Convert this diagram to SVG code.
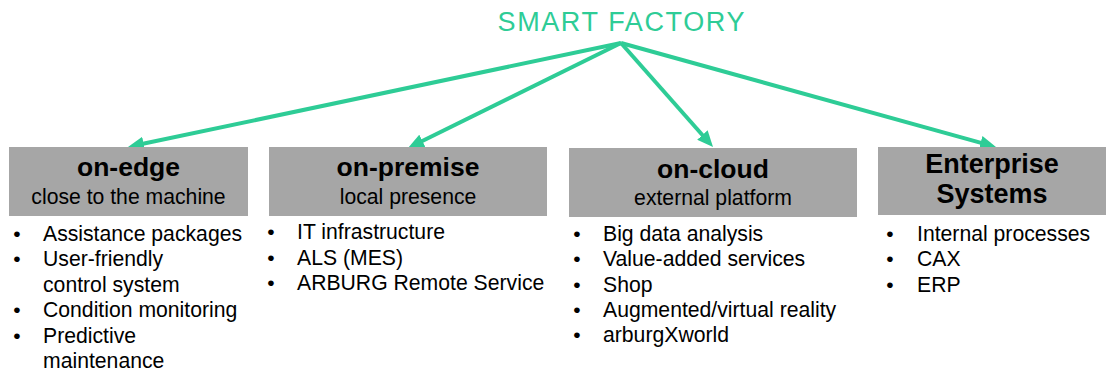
<svg xmlns="http://www.w3.org/2000/svg" width="1107" height="374" viewBox="0 0 1107 374">
<defs>
<style>
.box{fill:#a6a6a6}
.h{font-family:"Liberation Sans",Arial,sans-serif;font-weight:bold;font-size:26.5px;fill:#000;text-anchor:middle}
.s{font-family:"Liberation Sans",Arial,sans-serif;font-size:21.2px;fill:#000;text-anchor:middle}
.t{font-family:"Liberation Sans",Arial,sans-serif;font-size:21.2px;fill:#000}
.b{font-family:"Liberation Sans",Arial,sans-serif;font-size:21px;fill:#000;text-anchor:middle}
.c{stroke:#2ecc96;stroke-width:4;fill:none;marker-end:url(#ah)}
</style>
<marker id="ah" markerUnits="userSpaceOnUse" markerWidth="16" markerHeight="14" refX="8" refY="7" orient="auto" viewBox="0 0 16 14">
<path d="M0,0 L16,7 L0,14 z" fill="#2ecc96"/>
</marker>
</defs>
<g id="title">
<text x="621" y="31" font-family="'Liberation Sans',Arial,sans-serif" font-size="27" fill="#2ecc96" text-anchor="middle" textLength="247" lengthAdjust="spacing">SMART FACTORY</text>
</g>
<g id="connectors">
<line class="c" x1="621" y1="43" x2="135.8" y2="145.3"/>
<line class="c" x1="621" y1="43" x2="415.2" y2="144.5"/>
<line class="c" x1="621" y1="43" x2="707.7" y2="141"/>
<line class="c" x1="621" y1="43" x2="988.3" y2="144.9"/>
</g>
<g id="on-edge">
<rect class="box" x="9" y="147" width="239" height="69"/>
<text class="h" x="128.5" y="176">on-edge</text>
<text class="s" x="128.5" y="204">close to the machine</text>
<text class="b" x="17" y="241">•</text><text class="t" x="43" y="241">Assistance packages</text>
<text class="b" x="17" y="266">•</text><text class="t" x="43" y="266">User-friendly</text>
<text class="t" x="43" y="292">control system</text>
<text class="b" x="17" y="317">•</text><text class="t" x="43" y="317">Condition monitoring</text>
<text class="b" x="17" y="343">•</text><text class="t" x="43" y="343">Predictive</text>
<text class="t" x="43" y="368">maintenance</text>
</g>
<g id="on-premise">
<rect class="box" x="269" y="147" width="278" height="69"/>
<text class="h" x="408" y="176">on-premise</text>
<text class="s" x="408" y="204">local presence</text>
<text class="b" x="271" y="239">•</text><text class="t" x="297" y="239">IT infrastructure</text>
<text class="b" x="271" y="265">•</text><text class="t" x="297" y="265">ALS (MES)</text>
<text class="b" x="271" y="290">•</text><text class="t" x="297" y="290">ARBURG Remote Service</text>
</g>
<g id="on-cloud">
<rect class="box" x="569" y="148" width="288" height="69"/>
<text class="h" x="713" y="178">on-cloud</text>
<text class="s" x="713" y="205">external platform</text>
<text class="b" x="577" y="241">•</text><text class="t" x="603" y="241">Big data analysis</text>
<text class="b" x="577" y="266">•</text><text class="t" x="603" y="266">Value-added services</text>
<text class="b" x="577" y="292">•</text><text class="t" x="603" y="292">Shop</text>
<text class="b" x="577" y="317">•</text><text class="t" x="603" y="317">Augmented/virtual reality</text>
<text class="b" x="577" y="342">•</text><text class="t" x="603" y="342">arburgXworld</text>
</g>
<g id="enterprise">
<rect class="box" x="878" y="147" width="228" height="68"/>
<text class="h" x="992" y="173" style="font-size:27px">Enterprise</text>
<text class="h" x="992" y="203" style="font-size:27px">Systems</text>
<text class="b" x="890" y="241">•</text><text class="t" x="917" y="241">Internal processes</text>
<text class="b" x="890" y="266">•</text><text class="t" x="917" y="266">CAX</text>
<text class="b" x="890" y="292">•</text><text class="t" x="917" y="292">ERP</text>
</g>
</svg>
